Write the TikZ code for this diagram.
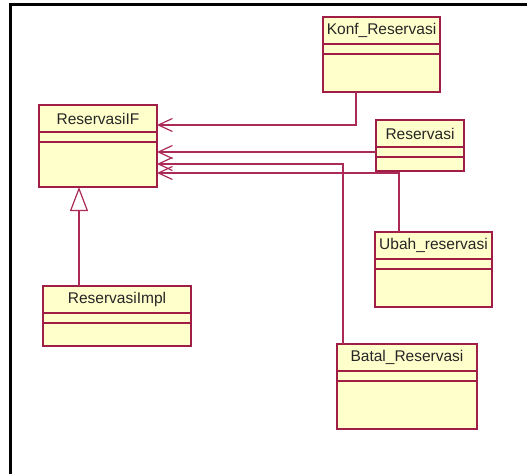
\documentclass[tikz,border=0pt]{standalone}
\usepackage{fontspec}
\setmainfont{Liberation Sans}
\usetikzlibrary{arrows.meta}
\definecolor{umlborder}{RGB}{160,30,70}
\definecolor{umlline}{RGB}{172,42,88}
\definecolor{umlfill}{RGB}{255,255,204}
\begin{document}
\begin{tikzpicture}
[x=1pt,y=-1pt,
  classdecorate/.style={shape=rectangle,draw=umlborder,fill=umlfill,line width=1.6pt,%
    inner sep=0pt,outer sep=0pt,anchor=north west},
  namedecorate/.style={font=\fontsize{15.5}{17}\selectfont,text=black!85,inner sep=0pt},
  compdecorate/.style={draw=umlborder,line width=1.6pt},
  usedecorate/.style={draw=umlline,line width=1.3pt,%
    -{Straight Barb[length=14pt,width=13pt,line width=1.2pt]}},
  realdecorate/.style={draw=umlline,line width=1.3pt,%
    -{Triangle[open,length=24pt,width=18pt,line width=1.2pt,fill=white]}}]
\useasboundingbox (0,0) rectangle (527,474);
%% frame
\draw[line width=3pt] (10,474) -- (10,4) -- (527,4);
%% classes
\foreach \nodename/\x/\y/\w/\h/\txt in {konf/323/17/117/75/Konf\_Reservasi,
  rif/39/105/118/82/ReservasiIF, res/376/120/88/51/Reservasi,
  ubah/375/232/117/75/Ubah\_reservasi, impl/43/286/148/60/ReservasiImpl,
  batal/337/344/140/85/Batal\_Reservasi} {
  \node (\nodename) at (\x,\y) [classdecorate,minimum width=\w pt,minimum height=\h pt] {};
  \node [namedecorate] at ([yshift=-13.5pt]\nodename.north) {\txt};
  \draw[compdecorate] ([yshift=-27pt]\nodename.north west) -- ([yshift=-27pt]\nodename.north east);
  \draw[compdecorate] ([yshift=-37pt]\nodename.north west) -- ([yshift=-37pt]\nodename.north east);
}
%% dependencies
\draw[usedecorate] ([xshift=-25.5pt]konf.south) |- ([yshift=21pt]rif.east);
\draw[usedecorate] ([yshift=-6.5pt]res.west) -- ([yshift=-6.5pt]res.west -| rif.east);
\draw[usedecorate] ([xshift=-64pt]batal.north) |- ([yshift=-18pt]rif.east);
\draw[usedecorate] ([xshift=-34.5pt]ubah.north) |- ([yshift=-27pt]rif.east);
%% realization
\draw[realdecorate] ([xshift=-38pt]impl.north) -- ([xshift=-38pt]impl.north |- rif.south);
\end{tikzpicture}
\end{document}
